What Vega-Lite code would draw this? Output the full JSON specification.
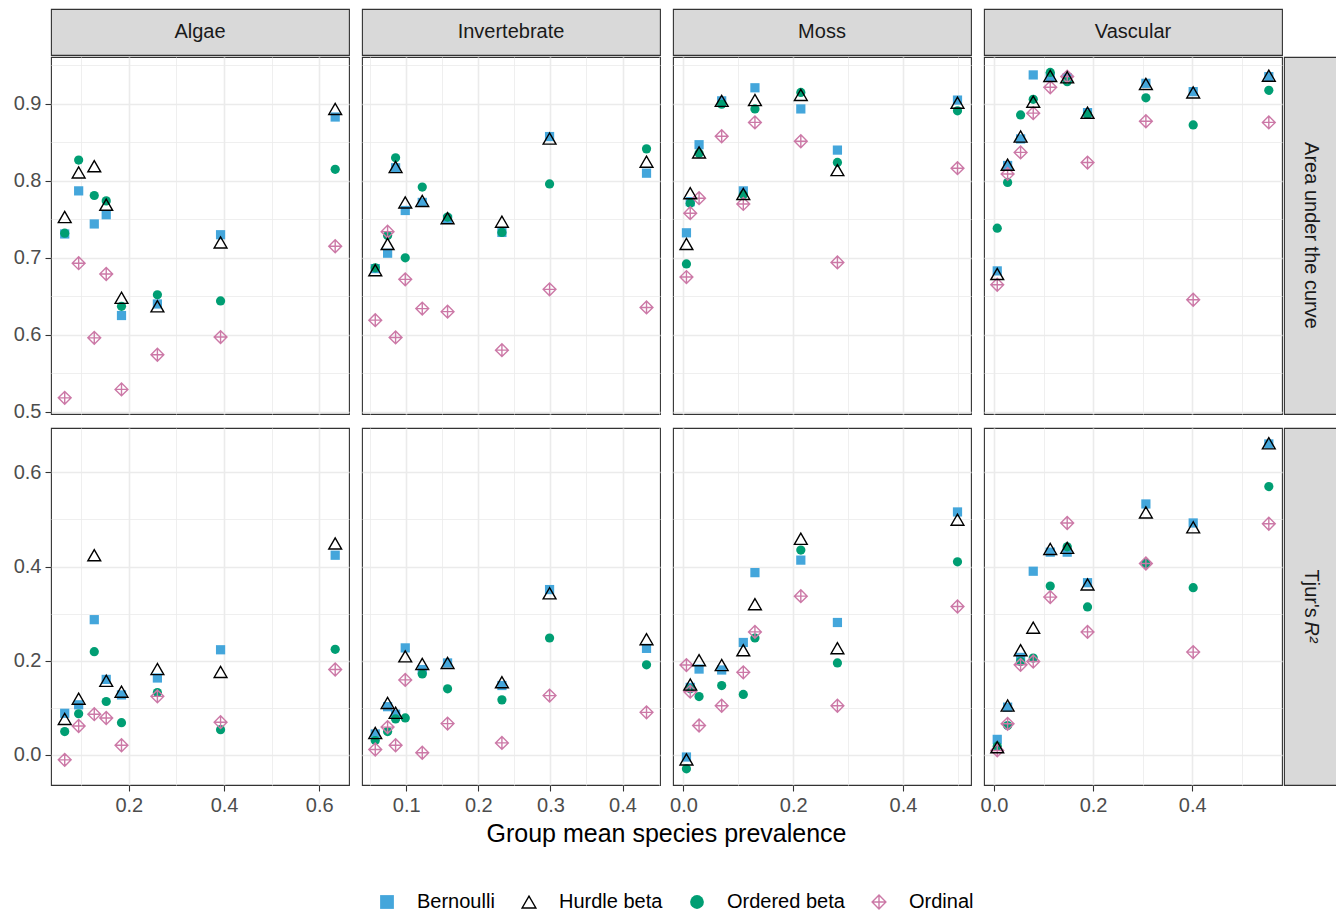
{
"$schema": "https://vega.github.io/schema/vega-lite/v6.json",
"background": "white",
"padding": {"left": 12, "top": 8, "right": 1, "bottom": 2},
"config": {
 "font": "Liberation Sans",
 "view": {"stroke": "#333333", "strokeWidth": 1.1},
 "axis": {"domain": false, "gridColor": "#EBEBEB", "tickColor": "#333333", "tickSize": 6, "tickWidth": 1.1, "labelFontSize": 20, "labelColor": "#4D4D4D", "labelPadding": 4, "labelFlush": false, "labelOverlap": false, "labelBound": false},
 "legend": {"orient": "bottom", "direction": "horizontal", "labelFontSize": 20, "labelColor": "#000000", "symbolSize": 190, "symbolStrokeWidth": 1.4, "labelOffset": 20, "columnPadding": 24, "offset": 45, "layout": {"bottom": {"anchor": "middle"}}}
},
"datasets": {"pts": [
{"g":"Algae","m":"AUC","k":"Bernoulli","x":0.0653,"y":0.731},
{"g":"Algae","m":"AUC","k":"Bernoulli","x":0.0946,"y":0.787},
{"g":"Algae","m":"AUC","k":"Bernoulli","x":0.1274,"y":0.744},
{"g":"Algae","m":"AUC","k":"Bernoulli","x":0.1525,"y":0.756},
{"g":"Algae","m":"AUC","k":"Bernoulli","x":0.1846,"y":0.625},
{"g":"Algae","m":"AUC","k":"Bernoulli","x":0.260,"y":0.640},
{"g":"Algae","m":"AUC","k":"Bernoulli","x":0.3927,"y":0.730},
{"g":"Algae","m":"AUC","k":"Bernoulli","x":0.6335,"y":0.883},
{"g":"Algae","m":"AUC","k":"Ordered beta","x":0.0653,"y":0.732},
{"g":"Algae","m":"AUC","k":"Ordered beta","x":0.0946,"y":0.827},
{"g":"Algae","m":"AUC","k":"Ordered beta","x":0.1274,"y":0.781},
{"g":"Algae","m":"AUC","k":"Ordered beta","x":0.1525,"y":0.774},
{"g":"Algae","m":"AUC","k":"Ordered beta","x":0.1846,"y":0.637},
{"g":"Algae","m":"AUC","k":"Ordered beta","x":0.260,"y":0.652},
{"g":"Algae","m":"AUC","k":"Ordered beta","x":0.3927,"y":0.644},
{"g":"Algae","m":"AUC","k":"Ordered beta","x":0.6335,"y":0.815},
{"g":"Algae","m":"AUC","k":"Ordinal","x":0.0653,"y":0.518},
{"g":"Algae","m":"AUC","k":"Ordinal","x":0.0946,"y":0.693},
{"g":"Algae","m":"AUC","k":"Ordinal","x":0.1274,"y":0.596},
{"g":"Algae","m":"AUC","k":"Ordinal","x":0.1525,"y":0.679},
{"g":"Algae","m":"AUC","k":"Ordinal","x":0.1846,"y":0.529},
{"g":"Algae","m":"AUC","k":"Ordinal","x":0.260,"y":0.574},
{"g":"Algae","m":"AUC","k":"Ordinal","x":0.3927,"y":0.597},
{"g":"Algae","m":"AUC","k":"Ordinal","x":0.6335,"y":0.715},
{"g":"Algae","m":"AUC","k":"Hurdle beta","x":0.0653,"y":0.753},
{"g":"Algae","m":"AUC","k":"Hurdle beta","x":0.0946,"y":0.811},
{"g":"Algae","m":"AUC","k":"Hurdle beta","x":0.1274,"y":0.819},
{"g":"Algae","m":"AUC","k":"Hurdle beta","x":0.1525,"y":0.769},
{"g":"Algae","m":"AUC","k":"Hurdle beta","x":0.1846,"y":0.648},
{"g":"Algae","m":"AUC","k":"Hurdle beta","x":0.260,"y":0.637},
{"g":"Algae","m":"AUC","k":"Hurdle beta","x":0.3927,"y":0.720},
{"g":"Algae","m":"AUC","k":"Hurdle beta","x":0.6335,"y":0.8935},
{"g":"Algae","m":"Tjur","k":"Bernoulli","x":0.0653,"y":0.088},
{"g":"Algae","m":"Tjur","k":"Bernoulli","x":0.0946,"y":0.106},
{"g":"Algae","m":"Tjur","k":"Bernoulli","x":0.1274,"y":0.287},
{"g":"Algae","m":"Tjur","k":"Bernoulli","x":0.1525,"y":0.160},
{"g":"Algae","m":"Tjur","k":"Bernoulli","x":0.1846,"y":0.127},
{"g":"Algae","m":"Tjur","k":"Bernoulli","x":0.260,"y":0.163},
{"g":"Algae","m":"Tjur","k":"Bernoulli","x":0.3927,"y":0.223},
{"g":"Algae","m":"Tjur","k":"Bernoulli","x":0.6335,"y":0.424},
{"g":"Algae","m":"Tjur","k":"Ordered beta","x":0.0653,"y":0.049},
{"g":"Algae","m":"Tjur","k":"Ordered beta","x":0.0946,"y":0.087},
{"g":"Algae","m":"Tjur","k":"Ordered beta","x":0.1274,"y":0.219},
{"g":"Algae","m":"Tjur","k":"Ordered beta","x":0.1525,"y":0.113},
{"g":"Algae","m":"Tjur","k":"Ordered beta","x":0.1846,"y":0.068},
{"g":"Algae","m":"Tjur","k":"Ordered beta","x":0.260,"y":0.132},
{"g":"Algae","m":"Tjur","k":"Ordered beta","x":0.3927,"y":0.053},
{"g":"Algae","m":"Tjur","k":"Ordered beta","x":0.6335,"y":0.224},
{"g":"Algae","m":"Tjur","k":"Ordinal","x":0.0653,"y":-0.011},
{"g":"Algae","m":"Tjur","k":"Ordinal","x":0.0946,"y":0.061},
{"g":"Algae","m":"Tjur","k":"Ordinal","x":0.1274,"y":0.086},
{"g":"Algae","m":"Tjur","k":"Ordinal","x":0.1525,"y":0.078},
{"g":"Algae","m":"Tjur","k":"Ordinal","x":0.1846,"y":0.020},
{"g":"Algae","m":"Tjur","k":"Ordinal","x":0.260,"y":0.124},
{"g":"Algae","m":"Tjur","k":"Ordinal","x":0.3927,"y":0.069},
{"g":"Algae","m":"Tjur","k":"Ordinal","x":0.6335,"y":0.181},
{"g":"Algae","m":"Tjur","k":"Hurdle beta","x":0.0653,"y":0.076},
{"g":"Algae","m":"Tjur","k":"Hurdle beta","x":0.0946,"y":0.119},
{"g":"Algae","m":"Tjur","k":"Hurdle beta","x":0.1274,"y":0.424},
{"g":"Algae","m":"Tjur","k":"Hurdle beta","x":0.1525,"y":0.157},
{"g":"Algae","m":"Tjur","k":"Hurdle beta","x":0.1846,"y":0.134},
{"g":"Algae","m":"Tjur","k":"Hurdle beta","x":0.260,"y":0.182},
{"g":"Algae","m":"Tjur","k":"Hurdle beta","x":0.3927,"y":0.176},
{"g":"Algae","m":"Tjur","k":"Hurdle beta","x":0.6335,"y":0.449},
{"g":"Invertebrate","m":"AUC","k":"Bernoulli","x":0.057,"y":0.686},
{"g":"Invertebrate","m":"AUC","k":"Bernoulli","x":0.0741,"y":0.706},
{"g":"Invertebrate","m":"AUC","k":"Bernoulli","x":0.0852,"y":0.817},
{"g":"Invertebrate","m":"AUC","k":"Bernoulli","x":0.0986,"y":0.7615},
{"g":"Invertebrate","m":"AUC","k":"Bernoulli","x":0.1222,"y":0.772},
{"g":"Invertebrate","m":"AUC","k":"Bernoulli","x":0.1573,"y":0.750},
{"g":"Invertebrate","m":"AUC","k":"Bernoulli","x":0.2327,"y":0.733},
{"g":"Invertebrate","m":"AUC","k":"Bernoulli","x":0.2988,"y":0.8576},
{"g":"Invertebrate","m":"AUC","k":"Bernoulli","x":0.4333,"y":0.810},
{"g":"Invertebrate","m":"AUC","k":"Ordered beta","x":0.057,"y":0.687},
{"g":"Invertebrate","m":"AUC","k":"Ordered beta","x":0.0741,"y":0.729},
{"g":"Invertebrate","m":"AUC","k":"Ordered beta","x":0.0852,"y":0.830},
{"g":"Invertebrate","m":"AUC","k":"Ordered beta","x":0.0986,"y":0.700},
{"g":"Invertebrate","m":"AUC","k":"Ordered beta","x":0.1222,"y":0.792},
{"g":"Invertebrate","m":"AUC","k":"Ordered beta","x":0.1573,"y":0.753},
{"g":"Invertebrate","m":"AUC","k":"Ordered beta","x":0.2327,"y":0.733},
{"g":"Invertebrate","m":"AUC","k":"Ordered beta","x":0.2988,"y":0.796},
{"g":"Invertebrate","m":"AUC","k":"Ordered beta","x":0.4333,"y":0.8416},
{"g":"Invertebrate","m":"AUC","k":"Ordinal","x":0.057,"y":0.619},
{"g":"Invertebrate","m":"AUC","k":"Ordinal","x":0.0741,"y":0.734},
{"g":"Invertebrate","m":"AUC","k":"Ordinal","x":0.0852,"y":0.5965},
{"g":"Invertebrate","m":"AUC","k":"Ordinal","x":0.0986,"y":0.672},
{"g":"Invertebrate","m":"AUC","k":"Ordinal","x":0.1222,"y":0.634},
{"g":"Invertebrate","m":"AUC","k":"Ordinal","x":0.1573,"y":0.630},
{"g":"Invertebrate","m":"AUC","k":"Ordinal","x":0.2327,"y":0.580},
{"g":"Invertebrate","m":"AUC","k":"Ordinal","x":0.2988,"y":0.659},
{"g":"Invertebrate","m":"AUC","k":"Ordinal","x":0.4333,"y":0.6355},
{"g":"Invertebrate","m":"AUC","k":"Hurdle beta","x":0.057,"y":0.684},
{"g":"Invertebrate","m":"AUC","k":"Hurdle beta","x":0.0741,"y":0.718},
{"g":"Invertebrate","m":"AUC","k":"Hurdle beta","x":0.0852,"y":0.818},
{"g":"Invertebrate","m":"AUC","k":"Hurdle beta","x":0.0986,"y":0.772},
{"g":"Invertebrate","m":"AUC","k":"Hurdle beta","x":0.1222,"y":0.774},
{"g":"Invertebrate","m":"AUC","k":"Hurdle beta","x":0.1573,"y":0.7515},
{"g":"Invertebrate","m":"AUC","k":"Hurdle beta","x":0.2327,"y":0.747},
{"g":"Invertebrate","m":"AUC","k":"Hurdle beta","x":0.2988,"y":0.855},
{"g":"Invertebrate","m":"AUC","k":"Hurdle beta","x":0.4333,"y":0.825},
{"g":"Invertebrate","m":"Tjur","k":"Bernoulli","x":0.057,"y":0.044},
{"g":"Invertebrate","m":"Tjur","k":"Bernoulli","x":0.0741,"y":0.102},
{"g":"Invertebrate","m":"Tjur","k":"Bernoulli","x":0.0852,"y":0.086},
{"g":"Invertebrate","m":"Tjur","k":"Bernoulli","x":0.0986,"y":0.227},
{"g":"Invertebrate","m":"Tjur","k":"Bernoulli","x":0.1222,"y":0.181},
{"g":"Invertebrate","m":"Tjur","k":"Bernoulli","x":0.1573,"y":0.195},
{"g":"Invertebrate","m":"Tjur","k":"Bernoulli","x":0.2327,"y":0.147},
{"g":"Invertebrate","m":"Tjur","k":"Bernoulli","x":0.2988,"y":0.351},
{"g":"Invertebrate","m":"Tjur","k":"Bernoulli","x":0.4333,"y":0.226},
{"g":"Invertebrate","m":"Tjur","k":"Ordered beta","x":0.057,"y":0.030},
{"g":"Invertebrate","m":"Tjur","k":"Ordered beta","x":0.0741,"y":0.049},
{"g":"Invertebrate","m":"Tjur","k":"Ordered beta","x":0.0852,"y":0.076},
{"g":"Invertebrate","m":"Tjur","k":"Ordered beta","x":0.0986,"y":0.078},
{"g":"Invertebrate","m":"Tjur","k":"Ordered beta","x":0.1222,"y":0.1715},
{"g":"Invertebrate","m":"Tjur","k":"Ordered beta","x":0.1573,"y":0.140},
{"g":"Invertebrate","m":"Tjur","k":"Ordered beta","x":0.2327,"y":0.1165},
{"g":"Invertebrate","m":"Tjur","k":"Ordered beta","x":0.2988,"y":0.248},
{"g":"Invertebrate","m":"Tjur","k":"Ordered beta","x":0.4333,"y":0.191},
{"g":"Invertebrate","m":"Tjur","k":"Ordinal","x":0.057,"y":0.011},
{"g":"Invertebrate","m":"Tjur","k":"Ordinal","x":0.0741,"y":0.0586},
{"g":"Invertebrate","m":"Tjur","k":"Ordinal","x":0.0852,"y":0.020},
{"g":"Invertebrate","m":"Tjur","k":"Ordinal","x":0.0986,"y":0.159},
{"g":"Invertebrate","m":"Tjur","k":"Ordinal","x":0.1222,"y":0.004},
{"g":"Invertebrate","m":"Tjur","k":"Ordinal","x":0.1573,"y":0.066},
{"g":"Invertebrate","m":"Tjur","k":"Ordinal","x":0.2327,"y":0.025},
{"g":"Invertebrate","m":"Tjur","k":"Ordinal","x":0.2988,"y":0.1256},
{"g":"Invertebrate","m":"Tjur","k":"Ordinal","x":0.4333,"y":0.090},
{"g":"Invertebrate","m":"Tjur","k":"Hurdle beta","x":0.057,"y":0.046},
{"g":"Invertebrate","m":"Tjur","k":"Hurdle beta","x":0.0741,"y":0.110},
{"g":"Invertebrate","m":"Tjur","k":"Hurdle beta","x":0.0852,"y":0.089},
{"g":"Invertebrate","m":"Tjur","k":"Hurdle beta","x":0.0986,"y":0.209},
{"g":"Invertebrate","m":"Tjur","k":"Hurdle beta","x":0.1222,"y":0.193},
{"g":"Invertebrate","m":"Tjur","k":"Hurdle beta","x":0.1573,"y":0.195},
{"g":"Invertebrate","m":"Tjur","k":"Hurdle beta","x":0.2327,"y":0.154},
{"g":"Invertebrate","m":"Tjur","k":"Hurdle beta","x":0.2988,"y":0.343},
{"g":"Invertebrate","m":"Tjur","k":"Hurdle beta","x":0.4333,"y":0.2456},
{"g":"Moss","m":"AUC","k":"Bernoulli","x":0.0055,"y":0.7325},
{"g":"Moss","m":"AUC","k":"Bernoulli","x":0.0124,"y":0.773},
{"g":"Moss","m":"AUC","k":"Bernoulli","x":0.0285,"y":0.847},
{"g":"Moss","m":"AUC","k":"Bernoulli","x":0.0697,"y":0.904},
{"g":"Moss","m":"AUC","k":"Bernoulli","x":0.1091,"y":0.787},
{"g":"Moss","m":"AUC","k":"Bernoulli","x":0.1303,"y":0.921},
{"g":"Moss","m":"AUC","k":"Bernoulli","x":0.2139,"y":0.8935},
{"g":"Moss","m":"AUC","k":"Bernoulli","x":0.2806,"y":0.840},
{"g":"Moss","m":"AUC","k":"Bernoulli","x":0.4994,"y":0.905},
{"g":"Moss","m":"AUC","k":"Ordered beta","x":0.0055,"y":0.692},
{"g":"Moss","m":"AUC","k":"Ordered beta","x":0.0124,"y":0.771},
{"g":"Moss","m":"AUC","k":"Ordered beta","x":0.0285,"y":0.836},
{"g":"Moss","m":"AUC","k":"Ordered beta","x":0.0697,"y":0.8996},
{"g":"Moss","m":"AUC","k":"Ordered beta","x":0.1091,"y":0.782},
{"g":"Moss","m":"AUC","k":"Ordered beta","x":0.1303,"y":0.8935},
{"g":"Moss","m":"AUC","k":"Ordered beta","x":0.2139,"y":0.915},
{"g":"Moss","m":"AUC","k":"Ordered beta","x":0.2806,"y":0.824},
{"g":"Moss","m":"AUC","k":"Ordered beta","x":0.4994,"y":0.891},
{"g":"Moss","m":"AUC","k":"Ordinal","x":0.0055,"y":0.675},
{"g":"Moss","m":"AUC","k":"Ordinal","x":0.0124,"y":0.758},
{"g":"Moss","m":"AUC","k":"Ordinal","x":0.0285,"y":0.7775},
{"g":"Moss","m":"AUC","k":"Ordinal","x":0.0697,"y":0.858},
{"g":"Moss","m":"AUC","k":"Ordinal","x":0.1091,"y":0.770},
{"g":"Moss","m":"AUC","k":"Ordinal","x":0.1303,"y":0.876},
{"g":"Moss","m":"AUC","k":"Ordinal","x":0.2139,"y":0.8515},
{"g":"Moss","m":"AUC","k":"Ordinal","x":0.2806,"y":0.694},
{"g":"Moss","m":"AUC","k":"Ordinal","x":0.4994,"y":0.8165},
{"g":"Moss","m":"AUC","k":"Hurdle beta","x":0.0055,"y":0.718},
{"g":"Moss","m":"AUC","k":"Hurdle beta","x":0.0124,"y":0.784},
{"g":"Moss","m":"AUC","k":"Hurdle beta","x":0.0285,"y":0.837},
{"g":"Moss","m":"AUC","k":"Hurdle beta","x":0.0697,"y":0.904},
{"g":"Moss","m":"AUC","k":"Hurdle beta","x":0.1091,"y":0.783},
{"g":"Moss","m":"AUC","k":"Hurdle beta","x":0.1303,"y":0.905},
{"g":"Moss","m":"AUC","k":"Hurdle beta","x":0.2139,"y":0.9117},
{"g":"Moss","m":"AUC","k":"Hurdle beta","x":0.2806,"y":0.814},
{"g":"Moss","m":"AUC","k":"Hurdle beta","x":0.4994,"y":0.9017},
{"g":"Moss","m":"Tjur","k":"Bernoulli","x":0.0055,"y":-0.005},
{"g":"Moss","m":"Tjur","k":"Bernoulli","x":0.0124,"y":0.143},
{"g":"Moss","m":"Tjur","k":"Bernoulli","x":0.0285,"y":0.182},
{"g":"Moss","m":"Tjur","k":"Bernoulli","x":0.0697,"y":0.180},
{"g":"Moss","m":"Tjur","k":"Bernoulli","x":0.1091,"y":0.2385},
{"g":"Moss","m":"Tjur","k":"Bernoulli","x":0.1303,"y":0.387},
{"g":"Moss","m":"Tjur","k":"Bernoulli","x":0.2139,"y":0.4136},
{"g":"Moss","m":"Tjur","k":"Bernoulli","x":0.2806,"y":0.281},
{"g":"Moss","m":"Tjur","k":"Bernoulli","x":0.4994,"y":0.516},
{"g":"Moss","m":"Tjur","k":"Ordered beta","x":0.0055,"y":-0.030},
{"g":"Moss","m":"Tjur","k":"Ordered beta","x":0.0124,"y":0.140},
{"g":"Moss","m":"Tjur","k":"Ordered beta","x":0.0285,"y":0.1235},
{"g":"Moss","m":"Tjur","k":"Ordered beta","x":0.0697,"y":0.147},
{"g":"Moss","m":"Tjur","k":"Ordered beta","x":0.1091,"y":0.128},
{"g":"Moss","m":"Tjur","k":"Ordered beta","x":0.1303,"y":0.248},
{"g":"Moss","m":"Tjur","k":"Ordered beta","x":0.2139,"y":0.435},
{"g":"Moss","m":"Tjur","k":"Ordered beta","x":0.2806,"y":0.195},
{"g":"Moss","m":"Tjur","k":"Ordered beta","x":0.4994,"y":0.410},
{"g":"Moss","m":"Tjur","k":"Ordinal","x":0.0055,"y":0.1905},
{"g":"Moss","m":"Tjur","k":"Ordinal","x":0.0124,"y":0.134},
{"g":"Moss","m":"Tjur","k":"Ordinal","x":0.0285,"y":0.062},
{"g":"Moss","m":"Tjur","k":"Ordinal","x":0.0697,"y":0.104},
{"g":"Moss","m":"Tjur","k":"Ordinal","x":0.1091,"y":0.175},
{"g":"Moss","m":"Tjur","k":"Ordinal","x":0.1303,"y":0.261},
{"g":"Moss","m":"Tjur","k":"Ordinal","x":0.2139,"y":0.337},
{"g":"Moss","m":"Tjur","k":"Ordinal","x":0.2806,"y":0.104},
{"g":"Moss","m":"Tjur","k":"Ordinal","x":0.4994,"y":0.315},
{"g":"Moss","m":"Tjur","k":"Hurdle beta","x":0.0055,"y":-0.010},
{"g":"Moss","m":"Tjur","k":"Hurdle beta","x":0.0124,"y":0.149},
{"g":"Moss","m":"Tjur","k":"Hurdle beta","x":0.0285,"y":0.201},
{"g":"Moss","m":"Tjur","k":"Hurdle beta","x":0.0697,"y":0.1905},
{"g":"Moss","m":"Tjur","k":"Hurdle beta","x":0.1091,"y":0.222},
{"g":"Moss","m":"Tjur","k":"Hurdle beta","x":0.1303,"y":0.320},
{"g":"Moss","m":"Tjur","k":"Hurdle beta","x":0.2139,"y":0.459},
{"g":"Moss","m":"Tjur","k":"Hurdle beta","x":0.2806,"y":0.2265},
{"g":"Moss","m":"Tjur","k":"Hurdle beta","x":0.4994,"y":0.4996},
{"g":"Vascular","m":"AUC","k":"Bernoulli","x":0.0067,"y":0.683},
{"g":"Vascular","m":"AUC","k":"Bernoulli","x":0.0276,"y":0.820},
{"g":"Vascular","m":"AUC","k":"Bernoulli","x":0.0538,"y":0.8545},
{"g":"Vascular","m":"AUC","k":"Bernoulli","x":0.0793,"y":0.9377},
{"g":"Vascular","m":"AUC","k":"Bernoulli","x":0.1136,"y":0.9355},
{"g":"Vascular","m":"AUC","k":"Bernoulli","x":0.1478,"y":0.934},
{"g":"Vascular","m":"AUC","k":"Bernoulli","x":0.1888,"y":0.8887},
{"g":"Vascular","m":"AUC","k":"Bernoulli","x":0.3065,"y":0.9268},
{"g":"Vascular","m":"AUC","k":"Bernoulli","x":0.4019,"y":0.916},
{"g":"Vascular","m":"AUC","k":"Bernoulli","x":0.5544,"y":0.9355},
{"g":"Vascular","m":"AUC","k":"Ordered beta","x":0.0067,"y":0.7385},
{"g":"Vascular","m":"AUC","k":"Ordered beta","x":0.0276,"y":0.798},
{"g":"Vascular","m":"AUC","k":"Ordered beta","x":0.0538,"y":0.8857},
{"g":"Vascular","m":"AUC","k":"Ordered beta","x":0.0793,"y":0.906},
{"g":"Vascular","m":"AUC","k":"Ordered beta","x":0.1136,"y":0.941},
{"g":"Vascular","m":"AUC","k":"Ordered beta","x":0.1478,"y":0.929},
{"g":"Vascular","m":"AUC","k":"Ordered beta","x":0.1888,"y":0.8866},
{"g":"Vascular","m":"AUC","k":"Ordered beta","x":0.3065,"y":0.908},
{"g":"Vascular","m":"AUC","k":"Ordered beta","x":0.4019,"y":0.8727},
{"g":"Vascular","m":"AUC","k":"Ordered beta","x":0.5544,"y":0.9177},
{"g":"Vascular","m":"AUC","k":"Ordinal","x":0.0067,"y":0.665},
{"g":"Vascular","m":"AUC","k":"Ordinal","x":0.0276,"y":0.809},
{"g":"Vascular","m":"AUC","k":"Ordinal","x":0.0538,"y":0.837},
{"g":"Vascular","m":"AUC","k":"Ordinal","x":0.0793,"y":0.888},
{"g":"Vascular","m":"AUC","k":"Ordinal","x":0.1136,"y":0.9216},
{"g":"Vascular","m":"AUC","k":"Ordinal","x":0.1478,"y":0.9355},
{"g":"Vascular","m":"AUC","k":"Ordinal","x":0.1888,"y":0.8238},
{"g":"Vascular","m":"AUC","k":"Ordinal","x":0.3065,"y":0.8775},
{"g":"Vascular","m":"AUC","k":"Ordinal","x":0.4019,"y":0.6455},
{"g":"Vascular","m":"AUC","k":"Ordinal","x":0.5544,"y":0.876},
{"g":"Vascular","m":"AUC","k":"Hurdle beta","x":0.0067,"y":0.679},
{"g":"Vascular","m":"AUC","k":"Hurdle beta","x":0.0276,"y":0.821},
{"g":"Vascular","m":"AUC","k":"Hurdle beta","x":0.0538,"y":0.8576},
{"g":"Vascular","m":"AUC","k":"Hurdle beta","x":0.0793,"y":0.903},
{"g":"Vascular","m":"AUC","k":"Hurdle beta","x":0.1136,"y":0.9364},
{"g":"Vascular","m":"AUC","k":"Hurdle beta","x":0.1478,"y":0.9346},
{"g":"Vascular","m":"AUC","k":"Hurdle beta","x":0.1888,"y":0.8887},
{"g":"Vascular","m":"AUC","k":"Hurdle beta","x":0.3065,"y":0.926},
{"g":"Vascular","m":"AUC","k":"Hurdle beta","x":0.4019,"y":0.915},
{"g":"Vascular","m":"AUC","k":"Hurdle beta","x":0.5544,"y":0.9368},
{"g":"Vascular","m":"Tjur","k":"Bernoulli","x":0.0067,"y":0.0325},
{"g":"Vascular","m":"Tjur","k":"Bernoulli","x":0.0276,"y":0.101},
{"g":"Vascular","m":"Tjur","k":"Bernoulli","x":0.0538,"y":0.2068},
{"g":"Vascular","m":"Tjur","k":"Bernoulli","x":0.0793,"y":0.390},
{"g":"Vascular","m":"Tjur","k":"Bernoulli","x":0.1136,"y":0.4305},
{"g":"Vascular","m":"Tjur","k":"Bernoulli","x":0.1478,"y":0.4305},
{"g":"Vascular","m":"Tjur","k":"Bernoulli","x":0.1888,"y":0.3656},
{"g":"Vascular","m":"Tjur","k":"Bernoulli","x":0.3065,"y":0.533},
{"g":"Vascular","m":"Tjur","k":"Bernoulli","x":0.4019,"y":0.4926},
{"g":"Vascular","m":"Tjur","k":"Bernoulli","x":0.5544,"y":0.6606},
{"g":"Vascular","m":"Tjur","k":"Ordered beta","x":0.0067,"y":0.018},
{"g":"Vascular","m":"Tjur","k":"Ordered beta","x":0.0276,"y":0.062},
{"g":"Vascular","m":"Tjur","k":"Ordered beta","x":0.0538,"y":0.198},
{"g":"Vascular","m":"Tjur","k":"Ordered beta","x":0.0793,"y":0.2054},
{"g":"Vascular","m":"Tjur","k":"Ordered beta","x":0.1136,"y":0.3585},
{"g":"Vascular","m":"Tjur","k":"Ordered beta","x":0.1478,"y":0.4418},
{"g":"Vascular","m":"Tjur","k":"Ordered beta","x":0.1888,"y":0.314},
{"g":"Vascular","m":"Tjur","k":"Ordered beta","x":0.3065,"y":0.4065},
{"g":"Vascular","m":"Tjur","k":"Ordered beta","x":0.4019,"y":0.355},
{"g":"Vascular","m":"Tjur","k":"Ordered beta","x":0.5544,"y":0.570},
{"g":"Vascular","m":"Tjur","k":"Ordinal","x":0.0067,"y":0.009},
{"g":"Vascular","m":"Tjur","k":"Ordinal","x":0.0276,"y":0.0656},
{"g":"Vascular","m":"Tjur","k":"Ordinal","x":0.0538,"y":0.191},
{"g":"Vascular","m":"Tjur","k":"Ordinal","x":0.0793,"y":0.198},
{"g":"Vascular","m":"Tjur","k":"Ordinal","x":0.1136,"y":0.335},
{"g":"Vascular","m":"Tjur","k":"Ordinal","x":0.1478,"y":0.4926},
{"g":"Vascular","m":"Tjur","k":"Ordinal","x":0.1888,"y":0.261},
{"g":"Vascular","m":"Tjur","k":"Ordinal","x":0.3065,"y":0.4065},
{"g":"Vascular","m":"Tjur","k":"Ordinal","x":0.4019,"y":0.218},
{"g":"Vascular","m":"Tjur","k":"Ordinal","x":0.5544,"y":0.491},
{"g":"Vascular","m":"Tjur","k":"Hurdle beta","x":0.0067,"y":0.016},
{"g":"Vascular","m":"Tjur","k":"Hurdle beta","x":0.0276,"y":0.1044},
{"g":"Vascular","m":"Tjur","k":"Hurdle beta","x":0.0538,"y":0.222},
{"g":"Vascular","m":"Tjur","k":"Hurdle beta","x":0.0793,"y":0.270},
{"g":"Vascular","m":"Tjur","k":"Hurdle beta","x":0.1136,"y":0.4375},
{"g":"Vascular","m":"Tjur","k":"Hurdle beta","x":0.1478,"y":0.4397},
{"g":"Vascular","m":"Tjur","k":"Hurdle beta","x":0.1888,"y":0.362},
{"g":"Vascular","m":"Tjur","k":"Hurdle beta","x":0.3065,"y":0.515},
{"g":"Vascular","m":"Tjur","k":"Hurdle beta","x":0.4019,"y":0.4834},
{"g":"Vascular","m":"Tjur","k":"Hurdle beta","x":0.5544,"y":0.662}
]},
"vconcat": [
 {"vconcat": [
  {"hconcat": [
   {"width": 298, "height": 46, "view": {"fill": "#D9D9D9", "stroke": "#333333", "strokeWidth": 1.1}, "data": {"values": [{"t": "Algae"}]}, "mark": {"type": "text", "fontSize": 20, "color": "#1A1A1A"}, "encoding": {"text": {"field": "t"}}},
   {"width": 298, "height": 46, "view": {"fill": "#D9D9D9", "stroke": "#333333", "strokeWidth": 1.1}, "data": {"values": [{"t": "Invertebrate"}]}, "mark": {"type": "text", "fontSize": 20, "color": "#1A1A1A"}, "encoding": {"text": {"field": "t"}}},
   {"width": 298, "height": 46, "view": {"fill": "#D9D9D9", "stroke": "#333333", "strokeWidth": 1.1}, "data": {"values": [{"t": "Moss"}]}, "mark": {"type": "text", "fontSize": 20, "color": "#1A1A1A"}, "encoding": {"text": {"field": "t"}}},
   {"width": 298, "height": 46, "view": {"fill": "#D9D9D9", "stroke": "#333333", "strokeWidth": 1.1}, "data": {"values": [{"t": "Vascular"}]}, "mark": {"type": "text", "fontSize": 20, "color": "#1A1A1A"}, "encoding": {"text": {"field": "t"}}}
  ], "spacing": 13, "bounds": "flush"},
  {"hconcat": [
   {"hconcat": [
    {"width": 298, "height": 357, "data": {"name": "pts"}, "transform": [{"filter": "datum.g === 'Algae' && datum.m === 'AUC'"}],
     "mark": {"type": "point", "opacity": 1, "strokeWidth": 1.4},
     "encoding": {
      "x": {"field": "x", "type": "quantitative", "scale": {"domain": [0.0365, 0.6625], "nice": false, "zero": false}, "axis": {"title": null, "labels": false, "ticks": false, "values": [0.1,0.2,0.3,0.4,0.5,0.6], "gridWidth": {"condition": {"test": "abs(datum.value*5-round(datum.value*5))<0.001", "value": 1.6}, "value": 0.8}}},
      "y": {"field": "y", "type": "quantitative", "scale": {"domain": [0.497, 0.961], "nice": false, "zero": false}, "axis": {"title": null, "values": [0.5,0.55,0.6,0.65,0.7,0.75,0.8,0.85,0.9,0.95], "format": ".1f", "labelExpr": "abs(datum.value*10-round(datum.value*10))<0.001 ? datum.label : ''", "labelFontSize": {"condition": {"test": "abs(datum.value*10-round(datum.value*10))<0.001", "value": 20}, "value": 0}, "tickOpacity": {"condition": {"test": "abs(datum.value*10-round(datum.value*10))<0.001", "value": 1}, "value": 0}, "gridWidth": {"condition": {"test": "abs(datum.value*10-round(datum.value*10))<0.001", "value": 1.6}, "value": 0.8}}},
      "shape": {"field": "k", "type": "nominal", "title": null, "scale": {"domain": ["Bernoulli","Hurdle beta","Ordered beta","Ordinal"], "range": ["square","triangle-up","circle","M0,-1L1,0L0,1L-1,0Z M0,-1L0,1 M-1,0L1,0"]}, "legend": {"encode": {"symbols": {"update": {"size": {"signal": "datum.value === 'Hurdle beta' || datum.value === 'Ordinal' ? 200 : 110"}}}}}},
      "fill": {"field": "k", "type": "nominal", "title": null, "scale": {"domain": ["Bernoulli","Hurdle beta","Ordered beta","Ordinal"], "range": ["#44A6DB","transparent","#009E73","transparent"]}},
      "stroke": {"field": "k", "type": "nominal", "title": null, "scale": {"domain": ["Bernoulli","Hurdle beta","Ordered beta","Ordinal"], "range": ["transparent","#000000","transparent","#CC79A7"]}},
      "size": {"condition": {"test": "datum.k === 'Hurdle beta' || datum.k === 'Ordinal'", "value": 165}, "value": 85}
     }},
    {"width": 298, "height": 357, "data": {"name": "pts"}, "transform": [{"filter": "datum.g === 'Invertebrate' && datum.m === 'AUC'"}],
     "mark": {"type": "point", "opacity": 1, "strokeWidth": 1.4},
     "encoding": {
      "x": {"field": "x", "type": "quantitative", "scale": {"domain": [0.0386, 0.452], "nice": false, "zero": false}, "axis": {"title": null, "labels": false, "ticks": false, "values": [0.05,0.1,0.15,0.2,0.25,0.3,0.35,0.4,0.45], "gridWidth": {"condition": {"test": "abs(datum.value*10-round(datum.value*10))<0.001", "value": 1.6}, "value": 0.8}}},
      "y": {"field": "y", "type": "quantitative", "scale": {"domain": [0.497, 0.961], "nice": false, "zero": false}, "axis": {"title": null, "labels": false, "ticks": false, "values": [0.5,0.55,0.6,0.65,0.7,0.75,0.8,0.85,0.9,0.95], "gridWidth": {"condition": {"test": "abs(datum.value*10-round(datum.value*10))<0.001", "value": 1.6}, "value": 0.8}}},
      "shape": {"field": "k", "type": "nominal", "title": null, "scale": {"domain": ["Bernoulli","Hurdle beta","Ordered beta","Ordinal"], "range": ["square","triangle-up","circle","M0,-1L1,0L0,1L-1,0Z M0,-1L0,1 M-1,0L1,0"]}},
      "fill": {"field": "k", "type": "nominal", "title": null, "scale": {"domain": ["Bernoulli","Hurdle beta","Ordered beta","Ordinal"], "range": ["#44A6DB","transparent","#009E73","transparent"]}},
      "stroke": {"field": "k", "type": "nominal", "title": null, "scale": {"domain": ["Bernoulli","Hurdle beta","Ordered beta","Ordinal"], "range": ["transparent","#000000","transparent","#CC79A7"]}},
      "size": {"condition": {"test": "datum.k === 'Hurdle beta' || datum.k === 'Ordinal'", "value": 165}, "value": 85}
     }},
    {"width": 298, "height": 357, "data": {"name": "pts"}, "transform": [{"filter": "datum.g === 'Moss' && datum.m === 'AUC'"}],
     "mark": {"type": "point", "opacity": 1, "strokeWidth": 1.4},
     "encoding": {
      "x": {"field": "x", "type": "quantitative", "scale": {"domain": [-0.019, 0.524], "nice": false, "zero": false}, "axis": {"title": null, "labels": false, "ticks": false, "values": [0,0.1,0.2,0.3,0.4,0.5], "gridWidth": {"condition": {"test": "abs(datum.value*5-round(datum.value*5))<0.001", "value": 1.6}, "value": 0.8}}},
      "y": {"field": "y", "type": "quantitative", "scale": {"domain": [0.497, 0.961], "nice": false, "zero": false}, "axis": {"title": null, "labels": false, "ticks": false, "values": [0.5,0.55,0.6,0.65,0.7,0.75,0.8,0.85,0.9,0.95], "gridWidth": {"condition": {"test": "abs(datum.value*10-round(datum.value*10))<0.001", "value": 1.6}, "value": 0.8}}},
      "shape": {"field": "k", "type": "nominal", "title": null, "scale": {"domain": ["Bernoulli","Hurdle beta","Ordered beta","Ordinal"], "range": ["square","triangle-up","circle","M0,-1L1,0L0,1L-1,0Z M0,-1L0,1 M-1,0L1,0"]}},
      "fill": {"field": "k", "type": "nominal", "title": null, "scale": {"domain": ["Bernoulli","Hurdle beta","Ordered beta","Ordinal"], "range": ["#44A6DB","transparent","#009E73","transparent"]}},
      "stroke": {"field": "k", "type": "nominal", "title": null, "scale": {"domain": ["Bernoulli","Hurdle beta","Ordered beta","Ordinal"], "range": ["transparent","#000000","transparent","#CC79A7"]}},
      "size": {"condition": {"test": "datum.k === 'Hurdle beta' || datum.k === 'Ordinal'", "value": 165}, "value": 85}
     }},
    {"width": 298, "height": 357, "data": {"name": "pts"}, "transform": [{"filter": "datum.g === 'Vascular' && datum.m === 'AUC'"}],
     "mark": {"type": "point", "opacity": 1, "strokeWidth": 1.4},
     "encoding": {
      "x": {"field": "x", "type": "quantitative", "scale": {"domain": [-0.02, 0.581], "nice": false, "zero": false}, "axis": {"title": null, "labels": false, "ticks": false, "values": [0,0.1,0.2,0.3,0.4,0.5], "gridWidth": {"condition": {"test": "abs(datum.value*5-round(datum.value*5))<0.001", "value": 1.6}, "value": 0.8}}},
      "y": {"field": "y", "type": "quantitative", "scale": {"domain": [0.497, 0.961], "nice": false, "zero": false}, "axis": {"title": null, "labels": false, "ticks": false, "values": [0.5,0.55,0.6,0.65,0.7,0.75,0.8,0.85,0.9,0.95], "gridWidth": {"condition": {"test": "abs(datum.value*10-round(datum.value*10))<0.001", "value": 1.6}, "value": 0.8}}},
      "shape": {"field": "k", "type": "nominal", "title": null, "scale": {"domain": ["Bernoulli","Hurdle beta","Ordered beta","Ordinal"], "range": ["square","triangle-up","circle","M0,-1L1,0L0,1L-1,0Z M0,-1L0,1 M-1,0L1,0"]}},
      "fill": {"field": "k", "type": "nominal", "title": null, "scale": {"domain": ["Bernoulli","Hurdle beta","Ordered beta","Ordinal"], "range": ["#44A6DB","transparent","#009E73","transparent"]}},
      "stroke": {"field": "k", "type": "nominal", "title": null, "scale": {"domain": ["Bernoulli","Hurdle beta","Ordered beta","Ordinal"], "range": ["transparent","#000000","transparent","#CC79A7"]}},
      "size": {"condition": {"test": "datum.k === 'Hurdle beta' || datum.k === 'Ordinal'", "value": 165}, "value": 85}
     }}
   ], "spacing": 13, "bounds": "flush"},
   {"width": 53, "height": 357, "view": {"fill": "#D9D9D9", "stroke": "#333333", "strokeWidth": 1.1}, "data": {"values": [{"t": "Area under the curve"}]}, "mark": {"type": "text", "fontSize": 20, "color": "#1A1A1A", "angle": 90}, "encoding": {"text": {"field": "t"}}}
  ], "spacing": 0}
 ], "spacing": 0},
 {"vconcat": [
  {"hconcat": [
   {"hconcat": [
    {"width": 298, "height": 357, "data": {"name": "pts"}, "transform": [{"filter": "datum.g === 'Algae' && datum.m === 'Tjur'"}],
     "mark": {"type": "point", "opacity": 1, "strokeWidth": 1.4},
     "encoding": {
      "x": {"field": "x", "type": "quantitative", "scale": {"domain": [0.0365, 0.6625], "nice": false, "zero": false}, "axis": {"title": null, "values": [0.1,0.2,0.3,0.4,0.5,0.6], "format": ".1f", "labelExpr": "abs(datum.value*5-round(datum.value*5))<0.001 ? datum.label : ''", "labelFontSize": {"condition": {"test": "abs(datum.value*5-round(datum.value*5))<0.001", "value": 20}, "value": 0}, "tickOpacity": {"condition": {"test": "abs(datum.value*5-round(datum.value*5))<0.001", "value": 1}, "value": 0}, "gridWidth": {"condition": {"test": "abs(datum.value*5-round(datum.value*5))<0.001", "value": 1.6}, "value": 0.8}}},
      "y": {"field": "y", "type": "quantitative", "scale": {"domain": [-0.0645, 0.6945], "nice": false, "zero": false}, "axis": {"title": null, "values": [0,0.1,0.2,0.3,0.4,0.5,0.6], "format": ".1f", "labelExpr": "abs(datum.value*5-round(datum.value*5))<0.001 ? datum.label : ''", "labelFontSize": {"condition": {"test": "abs(datum.value*5-round(datum.value*5))<0.001", "value": 20}, "value": 0}, "tickOpacity": {"condition": {"test": "abs(datum.value*5-round(datum.value*5))<0.001", "value": 1}, "value": 0}, "gridWidth": {"condition": {"test": "abs(datum.value*5-round(datum.value*5))<0.001", "value": 1.6}, "value": 0.8}}},
      "shape": {"field": "k", "type": "nominal", "title": null, "scale": {"domain": ["Bernoulli","Hurdle beta","Ordered beta","Ordinal"], "range": ["square","triangle-up","circle","M0,-1L1,0L0,1L-1,0Z M0,-1L0,1 M-1,0L1,0"]}},
      "fill": {"field": "k", "type": "nominal", "title": null, "scale": {"domain": ["Bernoulli","Hurdle beta","Ordered beta","Ordinal"], "range": ["#44A6DB","transparent","#009E73","transparent"]}},
      "stroke": {"field": "k", "type": "nominal", "title": null, "scale": {"domain": ["Bernoulli","Hurdle beta","Ordered beta","Ordinal"], "range": ["transparent","#000000","transparent","#CC79A7"]}},
      "size": {"condition": {"test": "datum.k === 'Hurdle beta' || datum.k === 'Ordinal'", "value": 165}, "value": 85}
     }},
    {"width": 298, "height": 357, "data": {"name": "pts"}, "transform": [{"filter": "datum.g === 'Invertebrate' && datum.m === 'Tjur'"}],
     "mark": {"type": "point", "opacity": 1, "strokeWidth": 1.4},
     "encoding": {
      "x": {"field": "x", "type": "quantitative", "scale": {"domain": [0.0386, 0.452], "nice": false, "zero": false}, "axis": {"title": null, "values": [0.05,0.1,0.15,0.2,0.25,0.3,0.35,0.4,0.45], "format": ".1f", "labelExpr": "abs(datum.value*10-round(datum.value*10))<0.001 ? datum.label : ''", "labelFontSize": {"condition": {"test": "abs(datum.value*10-round(datum.value*10))<0.001", "value": 20}, "value": 0}, "tickOpacity": {"condition": {"test": "abs(datum.value*10-round(datum.value*10))<0.001", "value": 1}, "value": 0}, "gridWidth": {"condition": {"test": "abs(datum.value*10-round(datum.value*10))<0.001", "value": 1.6}, "value": 0.8}}},
      "y": {"field": "y", "type": "quantitative", "scale": {"domain": [-0.0645, 0.6945], "nice": false, "zero": false}, "axis": {"title": null, "labels": false, "ticks": false, "values": [0,0.1,0.2,0.3,0.4,0.5,0.6], "gridWidth": {"condition": {"test": "abs(datum.value*5-round(datum.value*5))<0.001", "value": 1.6}, "value": 0.8}}},
      "shape": {"field": "k", "type": "nominal", "title": null, "scale": {"domain": ["Bernoulli","Hurdle beta","Ordered beta","Ordinal"], "range": ["square","triangle-up","circle","M0,-1L1,0L0,1L-1,0Z M0,-1L0,1 M-1,0L1,0"]}},
      "fill": {"field": "k", "type": "nominal", "title": null, "scale": {"domain": ["Bernoulli","Hurdle beta","Ordered beta","Ordinal"], "range": ["#44A6DB","transparent","#009E73","transparent"]}},
      "stroke": {"field": "k", "type": "nominal", "title": null, "scale": {"domain": ["Bernoulli","Hurdle beta","Ordered beta","Ordinal"], "range": ["transparent","#000000","transparent","#CC79A7"]}},
      "size": {"condition": {"test": "datum.k === 'Hurdle beta' || datum.k === 'Ordinal'", "value": 165}, "value": 85}
     }},
    {"width": 298, "height": 357, "data": {"name": "pts"}, "transform": [{"filter": "datum.g === 'Moss' && datum.m === 'Tjur'"}],
     "mark": {"type": "point", "opacity": 1, "strokeWidth": 1.4},
     "encoding": {
      "x": {"field": "x", "type": "quantitative", "scale": {"domain": [-0.019, 0.524], "nice": false, "zero": false}, "axis": {"title": null, "values": [0,0.1,0.2,0.3,0.4,0.5], "format": ".1f", "labelExpr": "abs(datum.value*5-round(datum.value*5))<0.001 ? datum.label : ''", "labelFontSize": {"condition": {"test": "abs(datum.value*5-round(datum.value*5))<0.001", "value": 20}, "value": 0}, "tickOpacity": {"condition": {"test": "abs(datum.value*5-round(datum.value*5))<0.001", "value": 1}, "value": 0}, "gridWidth": {"condition": {"test": "abs(datum.value*5-round(datum.value*5))<0.001", "value": 1.6}, "value": 0.8}}},
      "y": {"field": "y", "type": "quantitative", "scale": {"domain": [-0.0645, 0.6945], "nice": false, "zero": false}, "axis": {"title": null, "labels": false, "ticks": false, "values": [0,0.1,0.2,0.3,0.4,0.5,0.6], "gridWidth": {"condition": {"test": "abs(datum.value*5-round(datum.value*5))<0.001", "value": 1.6}, "value": 0.8}}},
      "shape": {"field": "k", "type": "nominal", "title": null, "scale": {"domain": ["Bernoulli","Hurdle beta","Ordered beta","Ordinal"], "range": ["square","triangle-up","circle","M0,-1L1,0L0,1L-1,0Z M0,-1L0,1 M-1,0L1,0"]}},
      "fill": {"field": "k", "type": "nominal", "title": null, "scale": {"domain": ["Bernoulli","Hurdle beta","Ordered beta","Ordinal"], "range": ["#44A6DB","transparent","#009E73","transparent"]}},
      "stroke": {"field": "k", "type": "nominal", "title": null, "scale": {"domain": ["Bernoulli","Hurdle beta","Ordered beta","Ordinal"], "range": ["transparent","#000000","transparent","#CC79A7"]}},
      "size": {"condition": {"test": "datum.k === 'Hurdle beta' || datum.k === 'Ordinal'", "value": 165}, "value": 85}
     }},
    {"width": 298, "height": 357, "data": {"name": "pts"}, "transform": [{"filter": "datum.g === 'Vascular' && datum.m === 'Tjur'"}],
     "mark": {"type": "point", "opacity": 1, "strokeWidth": 1.4},
     "encoding": {
      "x": {"field": "x", "type": "quantitative", "scale": {"domain": [-0.02, 0.581], "nice": false, "zero": false}, "axis": {"title": null, "values": [0,0.1,0.2,0.3,0.4,0.5], "format": ".1f", "labelExpr": "abs(datum.value*5-round(datum.value*5))<0.001 ? datum.label : ''", "labelFontSize": {"condition": {"test": "abs(datum.value*5-round(datum.value*5))<0.001", "value": 20}, "value": 0}, "tickOpacity": {"condition": {"test": "abs(datum.value*5-round(datum.value*5))<0.001", "value": 1}, "value": 0}, "gridWidth": {"condition": {"test": "abs(datum.value*5-round(datum.value*5))<0.001", "value": 1.6}, "value": 0.8}}},
      "y": {"field": "y", "type": "quantitative", "scale": {"domain": [-0.0645, 0.6945], "nice": false, "zero": false}, "axis": {"title": null, "labels": false, "ticks": false, "values": [0,0.1,0.2,0.3,0.4,0.5,0.6], "gridWidth": {"condition": {"test": "abs(datum.value*5-round(datum.value*5))<0.001", "value": 1.6}, "value": 0.8}}},
      "shape": {"field": "k", "type": "nominal", "title": null, "scale": {"domain": ["Bernoulli","Hurdle beta","Ordered beta","Ordinal"], "range": ["square","triangle-up","circle","M0,-1L1,0L0,1L-1,0Z M0,-1L0,1 M-1,0L1,0"]}},
      "fill": {"field": "k", "type": "nominal", "title": null, "scale": {"domain": ["Bernoulli","Hurdle beta","Ordered beta","Ordinal"], "range": ["#44A6DB","transparent","#009E73","transparent"]}},
      "stroke": {"field": "k", "type": "nominal", "title": null, "scale": {"domain": ["Bernoulli","Hurdle beta","Ordered beta","Ordinal"], "range": ["transparent","#000000","transparent","#CC79A7"]}},
      "size": {"condition": {"test": "datum.k === 'Hurdle beta' || datum.k === 'Ordinal'", "value": 165}, "value": 85}
     }}
   ], "spacing": 13, "bounds": "flush"},
   {"width": 53, "height": 357, "view": {"fill": "#D9D9D9", "stroke": "#333333", "strokeWidth": 1.1}, "data": {"values": [{"a": "Tjur's", "b": "R²"}]},
    "layer": [
     {"mark": {"type": "text", "fontSize": 20, "color": "#1A1A1A", "angle": 90, "align": "left", "dx": -37}, "encoding": {"text": {"field": "a"}}},
     {"mark": {"type": "text", "fontSize": 20, "color": "#1A1A1A", "angle": 90, "align": "left", "dx": 15, "fontStyle": "italic"}, "encoding": {"text": {"field": "b"}}}
    ]}
  ], "spacing": 0},
  {"width": 1231, "height": 25, "view": {"stroke": null}, "data": {"values": [{"t": "Group mean species prevalence"}]}, "mark": {"type": "text", "fontSize": 25, "color": "#000000"}, "encoding": {"text": {"field": "t"}}}
 ], "spacing": 5}
],
"spacing": 4
}
